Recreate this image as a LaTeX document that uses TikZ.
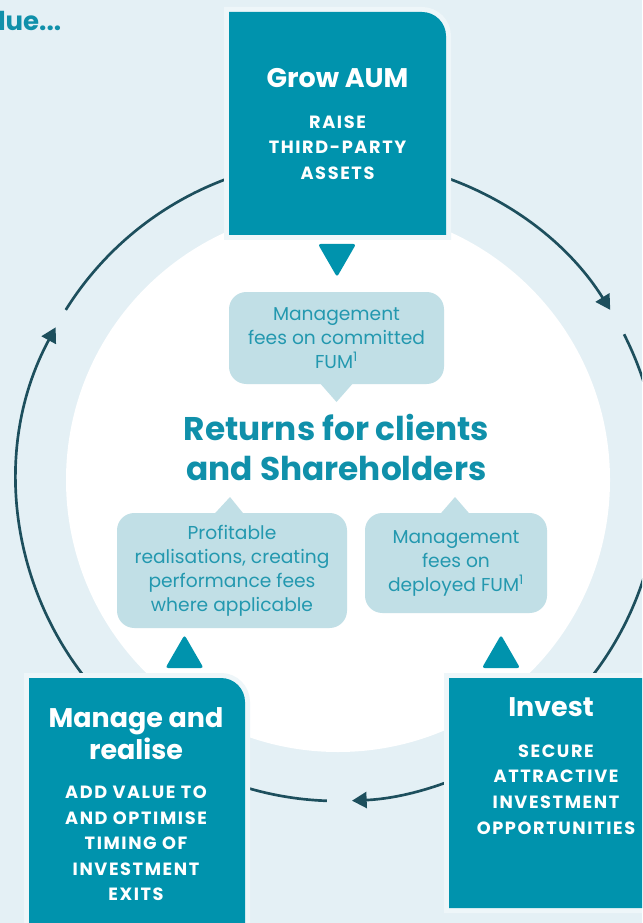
\documentclass[tikz,border=0pt]{standalone}
\usepackage{fontspec}
\setmainfont{Poppins}
\usetikzlibrary{arrows.meta,positioning,shapes.geometric}

\definecolor{bgblue}{HTML}{E4F0F5}
\definecolor{boxteal}{HTML}{0093AD}
\definecolor{boxedge}{HTML}{EEF6F9}
\definecolor{feefill}{HTML}{C1DFE6}
\definecolor{feetext}{HTML}{2398AF}
\definecolor{loopline}{HTML}{1D4F5D}
\definecolor{headteal}{HTML}{1090AA}

\begin{document}
\begin{tikzpicture}[x=0.75pt, y=-0.75pt,
  >={Triangle[length=11pt,width=12pt]},
  every node/.style={inner sep=0pt, outer sep=0pt},
  card/.style={fill=boxteal, preaction={draw=boxedge, line width=7.5pt}},
  cardtitle/.style={text=white, align=center, font=\bfseries\fontsize{20.2}{24}\selectfont},
  cardtext/.style={text=white, align=center, font=\bfseries\fontsize{13.3}{19.2}\selectfont\addfontfeatures{LetterSpace=9}},
  feebox/.style={fill=feefill, rounded corners=13pt, text=feetext, align=center, font=\fontsize{14}{18}\selectfont},
  marker/.style={regular polygon, regular polygon sides=3, minimum size=33pt, fill=boxteal, rounded corners=2pt},
  cycleline/.style={draw=loopline, line width=2pt}]

  \useasboundingbox (0,0) rectangle (642,923);
  \clip (0,0) rectangle (642,923);
  \fill[bgblue] (0,0) rectangle (642,923);
  \coordinate (c) at (338,480);
  \fill[white] (c) circle[radius=272];

  % the cycle round the centre
  \draw[cycleline] ([shift={(-148:321)}]c) arc[start angle=-148, end angle=-100, radius=321];
  \draw[cycleline,->] ([shift={(-80:321)}]c) arc[start angle=-80, end angle=-32, radius=321];
  \draw[cycleline] ([shift={(-27:321)}]c) arc[start angle=-27, end angle=45, radius=321];
  \draw[cycleline,->] ([shift={(60:321)}]c) arc[start angle=60, end angle=87.5, radius=321];
  \draw[cycleline] ([shift={(92:321)}]c) arc[start angle=92, end angle=115, radius=321];
  \draw[cycleline,->] ([shift={(135:321)}]c) arc[start angle=135, end angle=208.4, radius=321];

  % the three stages
  \node[minimum width=162.75pt, minimum height=167.25pt] (grow) at (337.5,123.5) {};
  \node[minimum width=162pt, minimum height=196.5pt] (manage) at (137,809) {};
  \node[minimum width=162pt, minimum height=172.5pt] (invest) at (557,793) {};
  \foreach \b in {grow,manage,invest}
    \path[card] (\b.south west) -- (\b.north west) -- ([xshift=-18pt]\b.north east)
      arc[start angle=90, end angle=0, radius=18pt] -- (\b.south east) -- cycle;

  \node[cardtitle] (growT) at (337.5,78) {Grow AUM};
  \node[cardtext] (growS) at (337.5,147.5) {RAISE\\THIRD-PARTY\\ASSETS};
  \node[cardtitle] (manageT) at (136,734) {Manage and\\realise};
  \node[cardtext] (manageS) at (136,843.5) {ADD VALUE TO\\AND OPTIMISE\\TIMING OF\\INVESTMENT\\EXITS};
  \node[cardtitle] (investT) at (551,707) {Invest};
  \node[cardtext] (investS) at (556,789.5) {SECURE\\ATTRACTIVE\\INVESTMENT\\OPPORTUNITIES};

  % markers and fee boxes
  \node[marker, shape border rotate=180] (downG) at (337,255) {};
  \node[marker] (upM) at (184.5,657) {};
  \node[marker] (upI) at (501,657) {};

  \node[feebox, minimum width=161.25pt, minimum height=69pt] (feeA) at (336.5,338)
    {Management\\fees on committed\\FUM\textsuperscript{1}};
  \node[feebox, minimum width=172.5pt, minimum height=86.25pt] (feeB) at (232,570.5)
    {Profitable\\realisations, creating\\performance fees\\where applicable};
  \node[feebox, minimum width=136.5pt, minimum height=75pt] (feeC) at (456,563)
    {Management\\fees on\\deployed FUM\textsuperscript{1}};
  \fill[feefill] ([xshift=-12.75pt,yshift=1pt]feeA.south) -- ([xshift=12.75pt,yshift=1pt]feeA.south)
    -- ([yshift=-13.5pt]feeA.south) -- cycle;
  \fill[feefill] ([xshift=-13.5pt,yshift=-1pt]feeB.north) -- ([xshift=9pt,yshift=-1pt]feeB.north)
    -- ([xshift=-1.5pt,yshift=12pt]feeB.north) -- cycle;
  \fill[feefill] ([xshift=-12pt,yshift=-1pt]feeC.north) -- ([xshift=10.5pt,yshift=-1pt]feeC.north)
    -- ([xshift=-0.75pt,yshift=12pt]feeC.north) -- cycle;

  \node[text=headteal, align=center, font=\bfseries\fontsize{24.6}{30}\selectfont] (returns) at (336.5,447)
    {Returns for clients\\and Shareholders};
  \node[anchor=west, text=headteal, font=\bfseries\fontsize{19.5}{22}\selectfont] (lead) at (-2,21) {lue...};
\end{tikzpicture}
\end{document}
